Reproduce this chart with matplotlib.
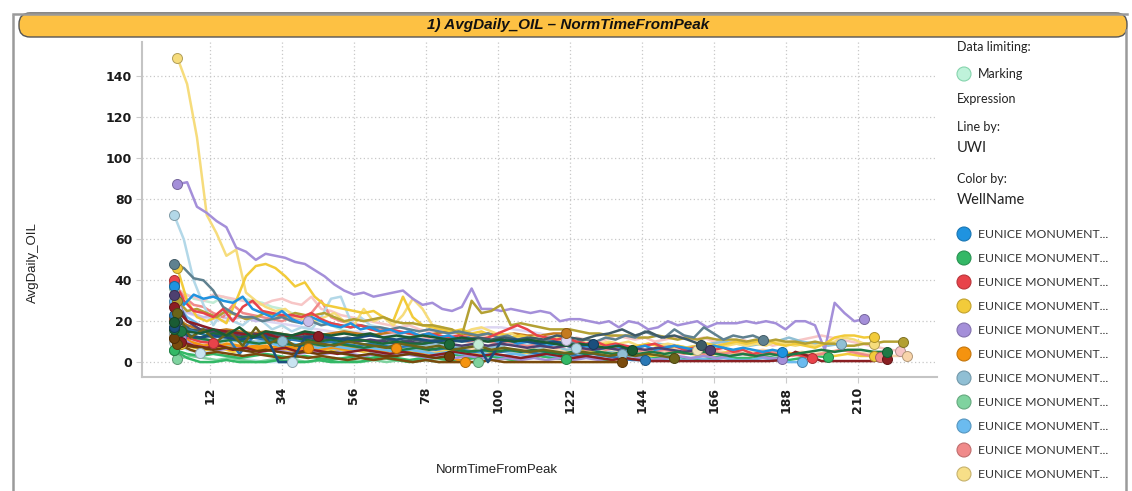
import numpy as np
import matplotlib
matplotlib.use("Agg")
import matplotlib.pyplot as plt
from matplotlib.patches import FancyBboxPatch, Circle
from matplotlib.colors import to_rgb

# ---------------------------------------------
# AvgDaily_OIL per well
# each series: first NormTimeFromPeak, step, values
# ---------------------------------------------
# prominent wells, one value every 3 periods
oil_lightyellow = [149, 136, 110, 72, 63, 52, 55, 34, 30, 27, 25, 26, 22, 21, 20, 22, 24, 20, 18, 26,
                   20, 22, 18, 23, 31, 26, 18, 17, 15, 14, 16, 17, 15, 13, 14, 12, 12, 13, 11, 12,
                   11, 10, 11, 9, 10, 9, 10, 8, 9, 8, 9, 8, 7, 8, 9, 7, 8, 9, 8, 9,
                   8, 10, 9, 8, 9, 8, 9, 10, 12, 11, 9, 9]
oil_purple = [87, 88, 76, 73, 69, 66, 56, 54, 50, 53, 52, 51, 49, 48, 45, 42, 38, 35, 33, 34,
              32, 33, 34, 35, 31, 28, 29, 26, 25, 27, 36, 26, 26, 25, 26, 25, 24, 25, 24, 20,
              21, 21, 20, 19, 20, 17, 20, 19, 16, 17, 20, 18, 19, 20, 17, 19, 19, 19, 20, 19,
              20, 19, 16, 20, 20, 18, 6, 29, 24, 20, 21]
oil_paleblue = [72, 60, 40, 28, 18, 25, 20, 18, 22, 20, 16, 18, 15, 17, 16, 22, 31, 32, 20, 22,
                18, 17, 16, 14, 15, 13, 14, 12, 13, 11, 12, 11, 10, 12, 11, 10, 9, 10, 9, 8, 9, 7]
oil_slate = [48, 46, 41, 40, 35, 27, 24, 22, 22, 20, 21, 22, 20, 19, 20, 18, 19, 18, 17, 18,
             17, 17, 16, 17, 16, 15, 16, 15, 14, 15, 14, 13, 14, 12, 13, 11, 12, 10, 11, 10,
             9, 10, 11, 10, 12, 11, 13, 12, 15, 13, 12, 16, 13, 12, 17, 14, 11, 13, 12, 13, 11]
oil_yellow = [46, 30, 22, 20, 22, 19, 30, 42, 47, 48, 46, 42, 37, 39, 32, 28, 27, 26, 25, 24,
              25, 22, 20, 32, 22, 18, 17, 16, 15, 16, 14, 15, 13, 14, 12, 13, 12, 11, 10, 10,
              9, 8, 9, 8, 9, 8, 7, 8, 9, 8, 7, 8, 7, 8, 9, 8, 9, 10, 9, 10,
              11, 9, 8, 9, 8, 7, 9, 12, 13, 13, 12, 12.4]
oil_olivegold = [30, 25, 26, 24, 22, 25, 23, 21, 22, 24, 23, 22, 24, 23, 23, 24, 22, 20, 21, 20,
                 21, 22, 20, 19, 19, 18, 18, 17, 16, 13, 30, 24, 25, 28, 18, 19, 18, 17, 16, 16,
                 16, 15, 14, 14, 13, 13, 13, 12, 12, 13, 12, 11, 12, 11, 12, 11, 11, 11, 10, 11,
                 10, 11, 10, 10, 9, 10, 9, 9, 8, 8, 9, 9, 10, 10, 10]
oil_red = [40, 30, 25, 24, 22, 26, 20, 27, 30, 25, 24, 23, 23, 22, 24, 21, 19, 18, 17, 18,
           16, 15, 16, 15, 14, 13, 14, 13, 12, 13, 12, 11, 12, 14, 16, 18, 16, 13, 12, 11,
           12, 10, 9, 10, 8, 9, 8, 7, 8, 9, 7, 8, 6, 7, 8, 6, 7, 5, 6, 4, 5, 4, 3, 4, 3, 2]
oil_blue = [37, 28, 33, 31, 32, 30, 29, 32, 26, 24, 22, 25, 21, 19, 22, 20, 18, 17, 19, 16,
            17, 15, 16, 14, 15, 13, 14, 12, 13, 11, 12, 10, 11, 10, 11, 9, 10, 9, 8, 9,
            8, 7, 8, 6, 7, 8, 6, 7, 8, 6, 7, 8, 7, 6, 7, 8, 7, 6, 7, 6, 5, 6, 5]
oil_pink = [38, 33, 32, 30, 33, 32, 31, 30, 29, 28, 30, 31, 29, 28, 32, 26, 25, 23, 22, 21,
            20, 19, 18, 17, 18, 16, 15, 16, 14, 15, 13, 12, 13, 12, 11, 12, 10, 11, 12, 11,
            10, 12, 11, 10, 11, 13, 12, 11, 12, 10, 11, 12, 13, 11, 12, 10, 9, 10, 11, 9,
            10, 8, 9, 10, 11, 12, 13, 12, 11, 10, 9, 8, 7, 6, 5.5]
oil_salmon = [38, 32, 28, 27, 24, 22, 28, 24, 23, 22, 21, 20, 22, 21, 24, 30, 22, 20, 19, 18,
              17, 16, 15, 14, 15, 13, 12, 13, 12, 11, 10, 11, 10, 9, 10, 9, 8, 9, 8, 7,
              8, 7, 6, 7, 6, 7, 6, 5, 6, 5, 6, 5, 4, 5, 4, 5, 4, 5, 4, 3,
              4, 5, 4, 3, 4, 3, 4, 5, 6, 5, 4, 3, 2.6]
oil_mint = [36, 34, 31, 30, 29, 32, 30, 31, 30, 29, 27, 26, 24, 22, 20, 19, 18, 16, 15, 14,
            13, 14, 13, 12, 13, 12, 11, 12, 11, 10, 10, 9]

# low producing wells, one value every 4 periods
oil_green = [6, 2, 0, 0, 1, 0, 0, 0, 1, 0, 0, 1, 0, 0, 0, 1, 2, 1, 0, 1, 2, 1, 1, 2, 3, 2,
             1, 2, 3, 2, 2, 3, 2, 1, 2, 3, 2, 2, 3, 2, 1, 2, 3, 2, 2, 3, 2, 1, 2, 3, 2.3]
oil_lightgreen = [1.5, 3, 2, 1, 2, 1, 0, 1, 2, 1, 0, 1, 2, 1, 0, 1, 0, 1, 0, 1, 0, 1, 0, 0]
oil_green2 = [6, 4, 3, 4, 3, 2, 3, 4, 3, 2, 3, 2, 1, 2, 3, 2, 3, 2, 1, 2, 3, 4, 3, 2, 3, 2,
              1, 2, 3, 2, 1.3]
oil_orange = [14, 10, 8, 9, 7, 8, 6, 7, 8, 6, 7, 8, 7, 6, 7, 6, 5, 6, 4, 5, 3, 2, 0]
oil_orange2 = [12, 9, 8, 7, 9, 8, 7, 8, 6, 7, 8, 6, 7, 8, 7, 6, 7, 6.7]
oil_orange3 = [10, 8, 7, 9, 6, 7, 8, 6, 7, 8, 6.7]
oil_peach = [14, 10, 9, 8, 9, 8, 7, 8, 9, 8, 7, 8, 7, 6, 7, 8, 7, 6, 7, 6, 5, 6, 7, 6, 5, 6,
             5, 6, 7, 6, 5, 6, 5, 4, 5, 6, 5, 6, 7, 6, 5, 6, 5, 4, 5, 6, 5, 4, 5, 4, 5, 6,
             5, 4, 4, 3, 3]
oil_darkgreen = [19.5, 15, 14, 16, 13, 17, 12, 15, 14, 13, 15, 14, 13, 14, 13, 14, 12, 13, 12,
                 13, 12, 11, 12, 11, 10, 11, 10, 11, 10, 9, 8, 9, 8, 7, 8, 6]
oil_darkgreen2 = [15, 12, 11, 10, 11, 10, 9, 10, 9, 8, 9, 8, 9, 8, 7, 8, 7, 6, 7, 6, 7, 6, 5,
                  6, 5, 6, 5, 6, 5, 4, 5, 4, 5, 4, 5, 4, 5, 4, 5, 4, 5, 4, 3, 4, 3, 4, 3, 4,
                  5, 6, 5, 6, 6, 5, 5]
oil_darkgreen3 = [16, 13, 12, 14, 13, 12, 13, 12, 11, 12, 11, 10, 11, 10, 11, 10, 9, 10, 9, 9, 10, 9]
oil_olive = [24, 12, 16, 10, 15, 8, 17, 9, 12, 8, 10, 9, 8, 10, 9, 8, 7, 9, 8, 7, 8, 6, 7, 8,
             6, 7, 6, 5, 6, 5, 4, 5, 4, 3, 4, 3, 4, 3, 2]
oil_navy = [17, 13, 12, 13, 12, 11, 12, 13, 0, 0, 12, 13, 12, 11, 12, 13, 12, 11, 12, 11, 10,
            11, 10, 11, 0, 10, 11, 10, 9, 10, 9, 8, 9]
oil_steel = [23, 16, 14, 12, 13, 4, 12, 11, 10, 11, 10, 9, 10, 9, 8, 9, 8, 7, 8, 7, 6, 7, 6, 5,
             6, 5, 6, 5, 4, 5, 4, 3, 4, 3, 2, 1, 1]
oil_darkpurple = [33, 20, 16, 15, 14, 13, 14, 13, 12, 13, 12, 11, 12, 11, 10, 11, 10, 9, 10, 9,
                  10, 9, 8, 9, 8, 9, 8, 7, 8, 7, 8, 7, 6, 7, 6, 7, 6, 7, 6, 5, 6, 6]
oil_darkred = [27, 20, 18, 16, 15, 14, 13, 14, 12, 13, 14, 13]
oil_maroon = [10, 8, 7, 8, 6, 7, 5, 6, 7, 5, 6, 5, 4, 5, 6, 5, 4, 5, 4, 3, 4, 5, 4, 3, 4, 3, 2,
              3, 4, 3, 2, 3, 2, 1, 2, 1, 0.5, 0.5, 0.5, 0.5, 0.5, 0.5, 0.5, 0.5, 0.5, 0.5, 1, 5,
              3, 0.5, 0.5, 0.5, 0.5, 0.5, 1.5]
oil_brown = [9, 6, 4, 5, 4, 3, 4, 3, 2, 3, 2, 3, 2, 1, 2, 1, 2, 1, 0, 1, 0, 0, 0, 0, 1, 0, 0,
             0, 0, 0, 0, 0, 0, 0, 0]
oil_brown2 = [12, 8, 7, 6, 7, 6, 5, 6, 5, 4, 5, 4, 5, 4, 3, 4, 3, 3, 4, 3, 2, 3]
oil_skyblue = [30, 22, 18, 14, 12, 10, 9, 10, 8, 9, 8, 7, 8, 7, 6, 7, 6, 5, 6, 5, 4, 5, 4, 5,
               4, 3, 4, 3, 4, 3, 2, 3, 2, 3, 2, 3, 2, 1, 2, 1, 2, 1, 2, 1, 1, 2, 1, 0, 0]
oil_lavender = [29, 24, 22, 21, 20, 22, 21, 20, 19, 18, 17, 16, 15, 14, 15, 14, 13, 14, 12, 11,
                12, 13, 14, 16, 17, 17, 16, 15, 14, 12, 11]
oil_lavender2 = [26, 24, 22, 23, 21, 22, 20, 21, 22, 21, 20]
oil_purple2 = [12, 8, 7, 6, 7, 6, 5, 6, 5, 4, 5, 4, 5, 4, 3, 4, 3, 4, 3, 2, 3, 2, 3, 2, 1, 2,
               1, 2, 1, 2, 1, 2, 1, 2, 1, 2, 1, 2, 3, 2, 3, 2, 3, 4, 3, 2, 1.5]
oil_grayblue = [20, 14, 12, 10, 11, 10, 9, 10, 9, 8, 9, 8, 7, 8, 7, 8, 9, 8, 7, 8, 9, 8, 7, 8,
                7, 8, 9, 8, 7, 8, 6, 7, 8, 7, 6, 7, 8, 9, 8, 7, 8, 9, 10, 9, 8, 9, 10, 12, 10,
                9, 8, 9]
oil_grayblue2 = [16, 12, 11, 10, 12, 11, 10, 11, 10.5]
oil_grayblue3 = [14, 10, 8, 9, 8, 7, 8, 7, 6, 7, 6, 7, 6, 5, 6, 5, 6, 5, 6, 5, 4, 5, 4, 5, 6,
                 5, 4, 5, 4, 5, 4, 5, 4, 5, 4]
oil_darkslate = [20, 16, 15, 14, 15, 14, 13, 14, 13, 12, 13, 12, 11, 12, 11, 10, 11, 10, 11, 10,
                 11, 10, 11, 12, 11, 12, 11, 12, 11, 13, 12, 11, 13, 14, 16, 13, 15, 12, 13, 11, 8.6]
oil_rust = [22, 18, 16, 15, 16, 15, 14, 15, 14, 13, 14, 13, 14, 15, 14, 13, 14, 15, 14, 13, 14,
            15, 14, 13, 14, 13, 14, 13, 13, 14, 14]
oil_redshort = [20, 12, 10, 9.3]
oil_paleshort = [10, 6, 4.4]
oil_iceblue = [14, 10, 6, 4, 3, 2, 1, 0, 0, 0]
oil_cream = [16, 12, 10, 11, 10, 9, 10, 9, 8, 9, 8, 9, 8, 7, 8, 7, 8, 7, 6, 7, 8, 7, 6, 7, 6,
             7, 6, 7, 6, 7, 6, 5, 6, 5, 6, 5, 6, 5, 6, 6, 6]
oil_yellow2 = [9, 7, 6, 7, 5, 6, 7, 6, 5, 6, 7, 6, 5, 6, 5, 6, 7, 6, 5, 4, 5, 6, 5, 4, 5, 6, 5,
               4, 5, 4, 5, 6, 5, 4, 5, 4, 3, 4, 5, 4, 3, 4, 5, 4, 3, 4, 5, 4, 3, 4, 3, 4, 3, 3]

# (first period, step, values, colour)  - drawn in this order
wells = [
    (1, 3, oil_mint, '#c2ecd6'),
    (1, 3, oil_pink, '#f7c6c6'),
    (1, 4, oil_lavender, '#ddd6f2'),
    (2, 4, oil_lavender2, '#c9bdea'),
    (1, 4, oil_cream, '#f2e4bc'),
    (1, 4, oil_peach, '#f8d4aa'),
    (1, 4, oil_iceblue, '#c9e4f1'),
    (1, 4, oil_paleshort, '#c9e4f1'),
    (2, 4, oil_lightgreen, '#7fd39f'),
    (1, 4, oil_green, '#33b866'),
    (1, 4, oil_green2, '#33b866'),
    (1, 4, oil_grayblue, '#90bfd4'),
    (2, 4, oil_grayblue2, '#90bfd4'),
    (2, 4, oil_grayblue3, '#90bfd4'),
    (3, 4, oil_yellow2, '#f2cb3a'),
    (2, 4, oil_orange, '#f5930f'),
    (1, 4, oil_orange2, '#f5930f'),
    (2, 4, oil_orange3, '#f5930f'),
    (1, 4, oil_skyblue, '#6bbbef'),
    (3, 4, oil_purple2, '#a48fd9'),
    (1, 4, oil_rust, '#c47a1e'),
    (1, 3, oil_salmon, '#f08a8a'),
    (1, 4, oil_redshort, '#e8434a'),
    (1, 3, oil_paleblue, '#b3d8e8'),
    (2, 3, oil_lightyellow, '#f6dc7c'),
    (2, 3, oil_purple, '#a48fd9'),
    (2, 3, oil_yellow, '#f2cb3a'),
    (2, 3, oil_olivegold, '#b3a033'),
    (1, 3, oil_slate, '#5f8190'),
    (1, 3, oil_red, '#e8434a'),
    (1, 3, oil_blue, '#1f93e0'),
    (2, 4, oil_darkslate, '#3f5b67'),
    (1, 4, oil_steel, '#2a78b5'),
    (1, 4, oil_darkpurple, '#4e4070'),
    (1, 4, oil_darkred, '#8c1d24'),
    (3, 4, oil_maroon, '#8a1f22'),
    (2, 4, oil_brown, '#7a4b0d'),
    (1, 4, oil_brown2, '#6e3e0a'),
    (3, 4, oil_darkgreen2, '#1f7a45'),
    (1, 4, oil_darkgreen3, '#1d6b3b'),
    (1, 4, oil_navy, '#1b4f7d'),
    (2, 4, oil_olive, '#6b6419'),
    (1, 4, oil_darkgreen, '#1a5c34'),
]

x_ticks = [12, 34, 56, 78, 100, 122, 144, 166, 188, 210]
y_ticks = [0, 20, 40, 60, 80, 100, 120, 140]

legend_colors = ['#1f93e0', '#33b866', '#e8434a', '#f2cb3a', '#a48fd9', '#f5930f',
                 '#90bfd4', '#7fd39f', '#6bbbef', '#f08a8a', '#f7df88']
legend_label = "EUNICE MONUMENT..."


def darker(c, f=0.72):
    r, g, b = to_rgb(c)
    return (r * f, g * f, b * f)


W, H = 1132, 491
fig = plt.figure(figsize=(W / 100, H / 100), dpi=100)

# plot area
ax = fig.add_axes([142 / W, 1 - 377 / H, (937 - 142) / W, (377 - 42) / H])
for start, step, vals, col in wells:
    x = start + step * np.arange(len(vals))
    ax.plot(x, vals, color=col, lw=1.8, solid_joinstyle='round', zorder=2)
for start, step, vals, col in wells:
    x = start + step * np.arange(len(vals))
    ax.plot([x[0], x[-1]], [vals[0], vals[-1]], 'o', ms=7.2, mfc=col,
            mec=darker(col), mew=0.7, zorder=3)

ax.set_xlim(-8.8, 234.3)
ax.set_ylim(-7.3, 156.6)
ax.set_xticks(x_ticks)
ax.set_yticks(y_ticks)
ax.set_xticklabels([str(v) for v in x_ticks], rotation=90, fontsize=9, fontweight='bold')
ax.set_yticklabels([str(v) for v in y_ticks], fontsize=9, fontweight='bold')
ax.tick_params(length=4, width=0.8, pad=3, color='#cccccc', labelcolor='#1a1a1a')
ax.grid(True, color='#c8c8c8', ls=(0, (1, 2)), lw=0.9)
ax.set_axisbelow(True)
for s in ['top', 'right']:
    ax.spines[s].set_visible(False)
for s in ['left', 'bottom']:
    ax.spines[s].set_color('#c4c4c4')
    ax.spines[s].set_linewidth(1.5)

# overlay in pixel coordinates for frame, banner and legend
ov = fig.add_axes([0, 0, 1, 1])
ov.set_xlim(0, W)
ov.set_ylim(H, 0)
ov.axis('off')
ov.patch.set_alpha(0)

ov.plot([13, 13], [16, H], color='#9a9a9a', lw=1.8)
ov.plot([13, 1127], [14, 14], color='#9a9a9a', lw=1.8)
ov.plot([1126, 1126], [30, H], color='#9a9a9a', lw=1.8)

banner = FancyBboxPatch((19, 13), 1108, 24, boxstyle="round,pad=0,rounding_size=11",
                        fc='#fdc143', ec='#555555', lw=1.0)
ov.add_patch(banner)
ov.text(568, 25, "1) AvgDaily_OIL \u2013 NormTimeFromPeak", ha='center', va='center',
        fontsize=11, fontweight='bold', fontstyle='italic', family='Liberation Sans',
        color='#111111')

ov.text(33, 263, "AvgDaily_OIL", rotation=90, ha='center', va='center', fontsize=9.5,
        family='Liberation Sans', color='#222222')
ov.text(497, 470, "NormTimeFromPeak", ha='center', va='center', fontsize=9.5,
        family='Liberation Sans', color='#222222')

lf = 'Lato'
ov.text(957, 47, "Data limiting:", ha='left', va='center', fontsize=9, family=lf, color='#222222')
ov.add_patch(Circle((964, 74), 7, fc='#bff2da', ec='#86d4ad', lw=0.8))
ov.text(978, 74, "Marking", ha='left', va='center', fontsize=9, family=lf, color='#222222')
ov.text(957, 99, "Expression", ha='left', va='center', fontsize=9, family=lf, color='#222222')
ov.text(957, 127, "Line by:", ha='left', va='center', fontsize=9, family=lf, color='#222222')
ov.text(957, 148, "UWI", ha='left', va='center', fontsize=10.5, family=lf, color='#222222')
ov.text(957, 179, "Color by:", ha='left', va='center', fontsize=9, family=lf, color='#222222')
ov.text(957, 200, "WellName", ha='left', va='center', fontsize=10.5, family=lf, color='#222222')
for i, col in enumerate(legend_colors):
    yy = 234 + 24 * i
    ov.add_patch(Circle((964, yy), 7, fc=col, ec=darker(col, 0.8), lw=0.8))
    ov.text(978, yy, legend_label, ha='left', va='center', fontsize=8.8, family=lf,
            color='#333333')

fig.savefig("out.png", dpi=100)
